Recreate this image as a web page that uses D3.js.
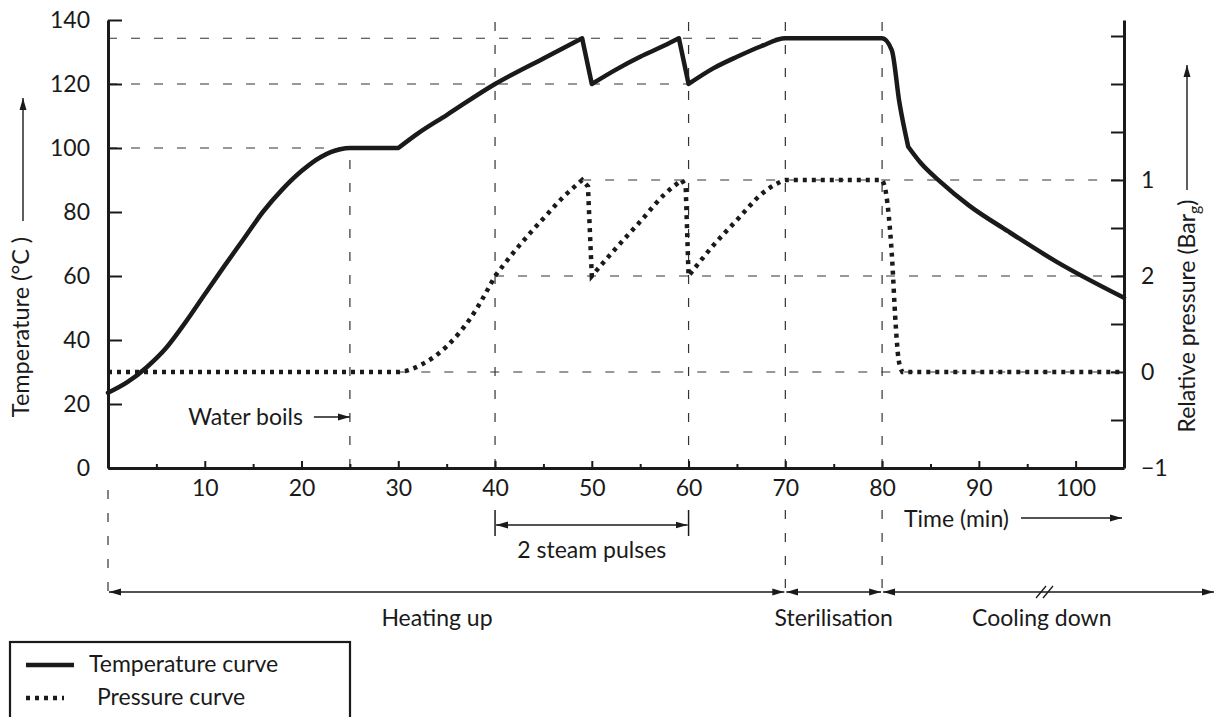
<!DOCTYPE html>
<html>
<head>
<meta charset="utf-8">
<script src="https://cdn.jsdelivr.net/npm/d3@7/dist/d3.min.js"></script>
<style>
  body { margin: 0; background: #fff; }
  text { font-family: Lato, "Open Sans", sans-serif; fill: #1a1a1a; }
</style>
</head>
<body>
<svg id="chart" width="1220" height="717"></svg>
<script>
// temperature curve (time in min, temperature in °C)
var tempTime  = [0, 2, 4, 6, 8, 10, 12, 14, 16, 18, 20, 22, 24, 25, 30,
                 32, 35, 40, 45, 49,
                 50, 52.5, 55, 57.5, 59,
                 60, 62.5, 65, 67.5, 70, 80, 81, 81.8, 82.7,
                 84, 86, 89, 93, 98, 105];
var tempValue = [23.5, 26.8, 31.5, 37.5, 45.5, 54.3, 63, 71.5, 80, 87, 92.8, 97.2, 99.6, 100, 100,
                 104.5, 110.3, 120, 128, 134.3,
                 120, 124.5, 128.5, 132, 134.3,
                 120, 124.8, 128.5, 131.8, 134.3, 134.3, 130.6, 114, 100.4,
                 95.3, 89.5, 82, 74, 64.5, 53.2];
var tempCorners = [30, 49, 50, 59, 60, 82.7];

// pressure curve, plotted on the temperature grid (0 bar sits at the 30 line)
var pressTime  = [0, 30, 32.5, 35, 37.5, 40, 42.5, 45, 47, 49,
                  49.6, 50, 52, 55, 57.5, 59.3,
                  59.7, 60, 62.4, 65, 67.7, 69.4, 70, 80,
                  80.4, 81, 81.4, 81.7, 82.1, 105];
var pressValue = [30, 30, 32.5, 38, 47, 60, 69.5, 78, 84.5, 90,
                  88, 60, 67, 77, 85.5, 90,
                  88, 60, 69, 77.5, 86, 89.3, 90, 90,
                  86, 67, 45, 34, 30, 30];
var pressCorners = [40, 49, 49.6, 50, 59.3, 59.7, 60, 80, 82.1];

// axes
var leftTicks = [0, 20, 40, 60, 80, 100, 120, 140];
var timeTicks = [10, 20, 30, 40, 50, 60, 70, 80, 90, 100];
var timeMinor = [5, 15, 25, 35, 45, 55, 65, 75, 85, 95];
var rightTicks = [0, 15, 30, 45, 60, 75, 90, 105, 120, 135];
var rightLabelAt = [0, 30, 60, 90];
var rightLabelText = ["\u22121", "0", "2", "1"];

// dashed reference lines
var hLines = [[134.3, 0, 70], [120, 0, 60], [100, 0, 25], [90, 49, 105], [60, 40, 105], [30, 30, 105]];
var vLines = [[25, 0, 100], [40, 0, 140], [60, 0, 140], [70, 0, 140], [80, 0, 140]];

// phases along the bottom
var phaseNames = ["Heating up", "Sterilisation", "Cooling down"];
var phaseStart = [0, 70, 80];
var phaseEnd   = [70, 80, 114.4];
var phaseLabelAt = [34, 75, 96.5];

var svg = d3.select("#chart");
var x = d3.scaleLinear().domain([0, 105]).range([108, 1124]);
var y = d3.scaleLinear().domain([0, 140]).range([468, 20]);
var ink = "#1a1a1a";
var fs = "23px";

// arrow head
var defs = svg.append("defs");
defs.append("marker")
    .attr("id", "arr")
    .attr("viewBox", "0 0 12 8")
    .attr("refX", 12).attr("refY", 4)
    .attr("markerWidth", 12).attr("markerHeight", 8)
    .attr("markerUnits", "userSpaceOnUse")
    .attr("orient", "auto-start-reverse")
  .append("path")
    .attr("d", "M0,0.5 L12,4 L0,7.5 Z")
    .attr("fill", ink);

// grid
var grid = svg.append("g").attr("stroke", "#333").attr("stroke-width", 1.2)
    .attr("stroke-dasharray", "9,14");
hLines.forEach(function(h) {
  grid.append("line")
      .attr("x1", x(h[1])).attr("x2", x(h[2]))
      .attr("y1", y(h[0])).attr("y2", y(h[0]));
});
vLines.forEach(function(v) {
  grid.append("line")
      .attr("x1", x(v[0])).attr("x2", x(v[0]))
      .attr("y1", y(v[1])).attr("y2", y(v[2]));
});
// continuation below the time axis
grid.append("line").attr("x1", x(0)).attr("x2", x(0)).attr("y1", 490).attr("y2", 592);
[70, 80].forEach(function(t) {
  grid.append("line").attr("x1", x(t)).attr("x2", x(t)).attr("y1", 510).attr("y2", 592);
});

// split a series at its sharp corners, draw each piece smooth
function pieces(times, vals, corners) {
  var segs = [], cur = [];
  times.forEach(function(t, i) {
    cur.push([t, vals[i]]);
    if (corners.indexOf(t) >= 0 && cur.length > 1) {
      segs.push(cur);
      cur = [[t, vals[i]]];
    }
  });
  if (cur.length > 1) segs.push(cur);
  return segs;
}
var line = d3.line()
    .x(function(d) { return x(d[0]); })
    .y(function(d) { return y(d[1]); })
    .curve(d3.curveMonotoneX);
function joined(segs) {
  return segs.map(function(s, i) {
    var p = line(s);
    return i ? p.replace(/^M/, "L") : p;
  }).join("");
}

svg.append("path")
    .attr("d", joined(pieces(pressTime, pressValue, pressCorners)))
    .attr("fill", "none").attr("stroke", ink)
    .attr("stroke-width", 4.5).attr("stroke-dasharray", "4,5");

svg.append("path")
    .attr("d", joined(pieces(tempTime, tempValue, tempCorners)))
    .attr("fill", "none").attr("stroke", ink)
    .attr("stroke-width", 4.5).attr("stroke-linejoin", "round").attr("stroke-linecap", "round");

// axes
var gl = svg.append("g").attr("transform", "translate(" + x(0) + ",0)")
    .call(d3.axisLeft(y).tickValues(leftTicks).tickSize(-14).tickSizeOuter(0).tickPadding(18));
var gb = svg.append("g").attr("transform", "translate(0," + y(0) + ")")
    .call(d3.axisBottom(x).tickValues(timeTicks).tickSize(-7).tickSizeOuter(0).tickPadding(12));
var gm = svg.append("g").attr("transform", "translate(0," + y(0) + ")")
    .call(d3.axisBottom(x).tickValues(timeMinor).tickSize(-4).tickSizeOuter(0).tickFormat(""));
var gr = svg.append("g").attr("transform", "translate(" + x(105) + ",0)")
    .call(d3.axisRight(y).tickValues(rightTicks).tickSize(-13).tickSizeOuter(0).tickPadding(17)
      .tickFormat(function(d) {
        var k = rightLabelAt.indexOf(d);
        return k >= 0 ? rightLabelText[k] : "";
      }));
[gl, gb, gm, gr].forEach(function(g) {
  g.select(".domain").attr("stroke", ink).attr("stroke-width", 3);
  g.selectAll(".tick line").attr("stroke", ink).attr("stroke-width", 2);
  g.selectAll("text").attr("font-size", fs).attr("font-family", "Lato, sans-serif").attr("fill", ink);
});
gm.select(".domain").remove();

// axis titles
svg.append("text").attr("transform", "translate(29," + 327 + ") rotate(-90)")
    .attr("text-anchor", "middle").attr("font-size", "23.5px").text("Temperature (\u00b0C )");
svg.append("line").attr("x1", 23).attr("x2", 23).attr("y1", 221).attr("y2", 98)
    .attr("stroke", ink).attr("stroke-width", 1.4).attr("marker-end", "url(#arr)");

var rt = svg.append("text").attr("transform", "translate(1195," + 316 + ") rotate(-90)")
    .attr("text-anchor", "middle").attr("font-size", fs);
rt.append("tspan").text("Relative pressure (Bar");
rt.append("tspan").attr("font-size", "16px").attr("dy", 5).text("g");
rt.append("tspan").attr("dy", -5).text(")");
svg.append("line").attr("x1", 1187).attr("x2", 1187).attr("y1", 190).attr("y2", 65)
    .attr("stroke", ink).attr("stroke-width", 1.4).attr("marker-end", "url(#arr)");

// annotations
function arrow(x1, y1, x2, y2, both) {
  var l = svg.append("line").attr("x1", x1).attr("y1", y1).attr("x2", x2).attr("y2", y2)
      .attr("stroke", ink).attr("stroke-width", 1.3).attr("marker-end", "url(#arr)");
  if (both) l.attr("marker-start", "url(#arr)");
}
function label(tx, ty, s, anchor) {
  svg.append("text").attr("x", tx).attr("y", ty).attr("dy", "0.35em")
      .attr("text-anchor", anchor || "middle").attr("font-size", fs).text(s);
}

label(x(25) - 47, 417, "Water boils", "end");
arrow(x(25) - 36, 417, x(25), 417);

[40, 60].forEach(function(t) {
  svg.append("line").attr("x1", x(t)).attr("x2", x(t)).attr("y1", 510).attr("y2", 536)
      .attr("stroke", ink).attr("stroke-width", 1.5);
});
arrow(x(40) + 1, 525, x(60) - 1, 525, true);
label(x(50), 550, "2 steam pulses");

label(904, 519, "Time (min)", "start");
arrow(1021, 518, 1122, 518);

phaseNames.forEach(function(name, i) {
  arrow(x(phaseStart[i]) + 1, 592, x(phaseEnd[i]) - 1, 592, true);
  label(x(phaseLabelAt[i]), 618, name);
});
// break marks on the cooling arrow
[0, 7].forEach(function(o) {
  svg.append("line").attr("x1", 1036 + o).attr("y1", 598).attr("x2", 1046 + o).attr("y2", 586)
      .attr("stroke", ink).attr("stroke-width", 1.3);
});

// legend
var lg = svg.append("g");
lg.append("rect").attr("x", 10).attr("y", 642).attr("width", 340).attr("height", 100)
    .attr("fill", "none").attr("stroke", ink).attr("stroke-width", 2.2);
lg.append("line").attr("x1", 26).attr("x2", 74).attr("y1", 665).attr("y2", 665)
    .attr("stroke", ink).attr("stroke-width", 4.5);
lg.append("line").attr("x1", 26).attr("x2", 64).attr("y1", 698).attr("y2", 698)
    .attr("stroke", ink).attr("stroke-width", 4.5).attr("stroke-dasharray", "4,5");
label(89, 664, "Temperature curve", "start");
label(97, 697, "Pressure curve", "start");
</script>
</body>
</html>
